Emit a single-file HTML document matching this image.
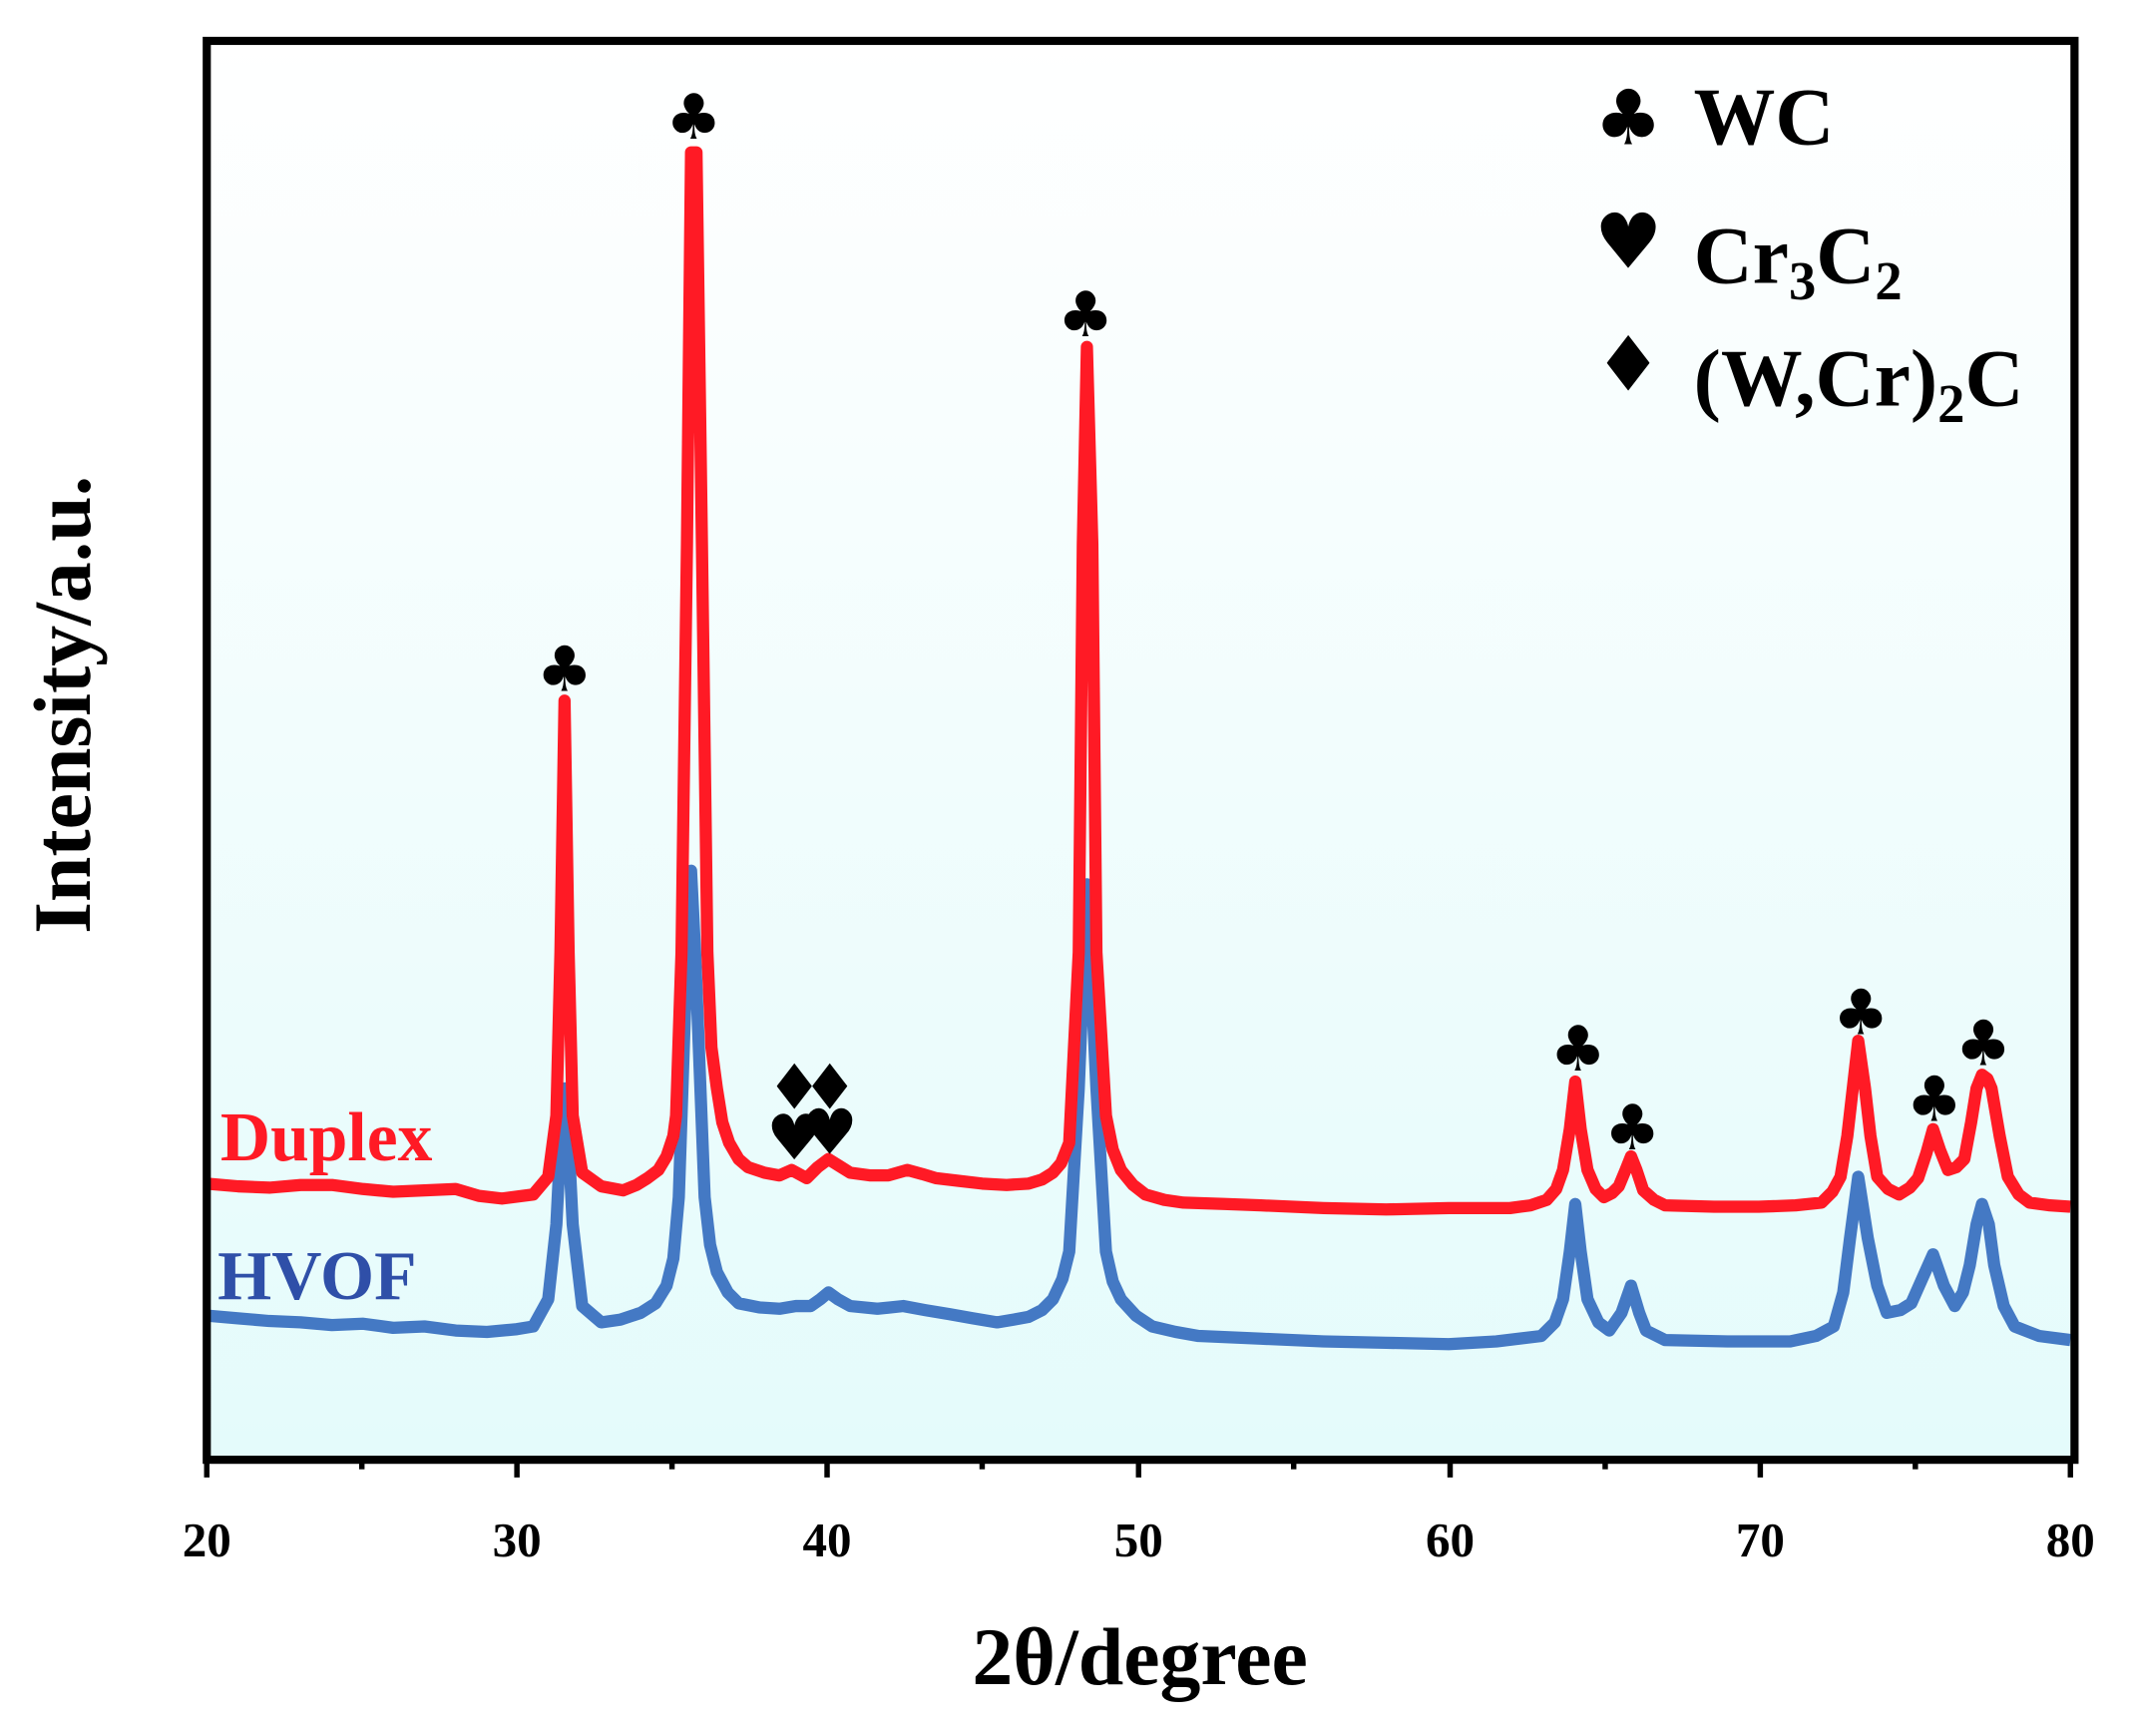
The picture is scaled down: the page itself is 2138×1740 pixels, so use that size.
<!DOCTYPE html>
<html><head><meta charset="utf-8"><style>body{margin:0;background:#fff}svg{display:block}</style></head>
<body>
<svg width="2138" height="1740" viewBox="0 0 1568 1276" xmlns="http://www.w3.org/2000/svg" font-family="'Liberation Serif',serif" font-weight="bold">
<defs><linearGradient id="g" x1="0" y1="0" x2="0" y2="1"><stop offset="0" stop-color="#ffffff"/><stop offset="1" stop-color="#e4fbfb"/></linearGradient></defs>
<rect x="152" y="30" width="1373" height="1043" fill="url(#g)"/>
<polyline fill="none" stroke="#4479c4" stroke-width="9" stroke-linejoin="round" points="152,967 175,969 198,971 221,972 244,974 267,973 289,976 312,975 335,978 358,979 380,977 392,975 403,955 409,900 412,840 415,800 418,840 421,900 428,960 442,972 456,970 471,965 482,958 490,945 495,925 499,880 505,700 508,640 511,700 518,880 522,915 527,935 535,950 543,958 558,961 573,962 585,960 596,960 603,955 609,950 616,955 625,960 645,962 664,960 680,963 698,966 715,969 733,972 745,970 756,968 766,963 774,955 781,940 786,920 793,800 799,650 806,800 813,920 818,942 824,955 835,967 847,975 864,979 881,982 927,984 973,986 1019,987 1065,988 1100,986 1133,982 1143,972 1149,955 1154,920 1158,885 1162,920 1167,955 1175,972 1183,978 1192,965 1199,945 1205,965 1210,978 1224,985 1270,986 1316,986 1335,982 1348,975 1355,950 1360,910 1366,865 1373,910 1380,945 1387,965 1397,963 1405,958 1413,940 1421,922 1429,945 1437,960 1443,950 1448,930 1453,900 1457,885 1462,900 1466,930 1473,960 1481,975 1499,982 1522,985"/>
<polyline fill="none" stroke="#ff1a25" stroke-width="9" stroke-linejoin="round" points="152,870 175,872 198,873 221,871 244,871 267,874 289,876 312,875 335,874 352,879 369,881 392,878 403,865 409,820 412,700 415,515 418,700 421,820 428,862 442,872 458,875 468,871 476,866 484,860 490,850 495,835 497,820 501,700 505,400 508,112 512,112 516,400 520,700 523,770 527,800 531,825 536,840 543,852 550,858 562,862 573,864 582,860 593,866 601,858 609,852 617,857 625,862 640,864 653,864 667,860 678,863 688,866 705,868 722,870 740,871 756,870 766,867 774,862 780,855 786,840 793,700 796,400 799,255 803,400 806,700 813,820 818,845 824,860 833,871 842,878 856,882 870,884 900,885 927,886 973,888 1019,889 1065,888 1110,888 1125,886 1137,882 1144,874 1149,860 1154,830 1158,795 1162,830 1167,860 1173,874 1179,880 1185,877 1190,872 1195,860 1199,850 1203,860 1208,875 1216,882 1224,886 1260,887 1293,887 1320,886 1339,884 1347,876 1353,865 1358,835 1362,800 1366,765 1371,800 1375,835 1380,865 1388,874 1396,878 1404,873 1410,866 1416,848 1421,830 1426,845 1432,860 1438,858 1444,852 1449,825 1453,800 1457,790 1461,793 1464,800 1470,835 1476,865 1484,878 1492,884 1507,886 1522,887"/>
<rect x="152" y="30" width="1373" height="1043" fill="none" stroke="#000" stroke-width="6"/>
<g stroke="#000" stroke-width="4">
<line x1="152" y1="1073" x2="152" y2="1086"/><line x1="266" y1="1073" x2="266" y2="1080"/><line x1="380" y1="1073" x2="380" y2="1086"/><line x1="494" y1="1073" x2="494" y2="1080"/><line x1="608" y1="1073" x2="608" y2="1086"/><line x1="722" y1="1073" x2="722" y2="1080"/><line x1="837" y1="1073" x2="837" y2="1086"/><line x1="951" y1="1073" x2="951" y2="1080"/><line x1="1066" y1="1073" x2="1066" y2="1086"/><line x1="1180" y1="1073" x2="1180" y2="1080"/><line x1="1294" y1="1073" x2="1294" y2="1086"/><line x1="1408" y1="1073" x2="1408" y2="1080"/><line x1="1522" y1="1073" x2="1522" y2="1086"/>
</g>
<g font-size="36" text-anchor="middle">
<text x="152" y="1144">20</text><text x="380" y="1144">30</text><text x="608" y="1144">40</text><text x="837" y="1144">50</text><text x="1066" y="1144">60</text><text x="1294" y="1144">70</text><text x="1522" y="1144">80</text>
</g>
<text x="838" y="1238" font-size="60" text-anchor="middle">2θ/degree</text>
<text transform="translate(66,518) rotate(-90)" font-size="60" text-anchor="middle">Intensity/a.u.</text>
<text x="162" y="853" font-size="51" fill="#ff1a25">Duplex</text>
<text x="160" y="955" font-size="51" fill="#2f4fa8">HVOF</text>
<g font-size="56" font-family="'DejaVu Sans',sans-serif" text-anchor="middle">
<text x="1197" y="106">♣</text><text x="1197" y="197">♥</text><text x="1197" y="287">♦</text>
</g>
<text x="1245" y="106" font-size="60">WC</text>
<text x="1245" y="208" font-size="60">Cr<tspan font-size="40" dy="12">3</tspan><tspan dy="-12">C</tspan><tspan font-size="40" dy="12">2</tspan></text>
<text x="1245" y="298" font-size="60">(W,Cr)<tspan font-size="40" dy="12">2</tspan><tspan dy="-12">C</tspan></text>
<g font-size="46" font-family="'DejaVu Sans',sans-serif" text-anchor="middle">
<text x="415" y="508">♣</text><text x="510" y="102">♣</text><text x="798" y="247">♣</text>
<text x="1160" y="787">♣</text><text x="1200" y="845">♣</text><text x="1368" y="760">♣</text><text x="1422" y="824">♣</text><text x="1458" y="783">♣</text>
<text x="584" y="815">♦</text><text x="610" y="815">♦</text><text x="584" y="852">♥</text><text x="610" y="848">♥</text>
</g>
</svg>
</body></html>
